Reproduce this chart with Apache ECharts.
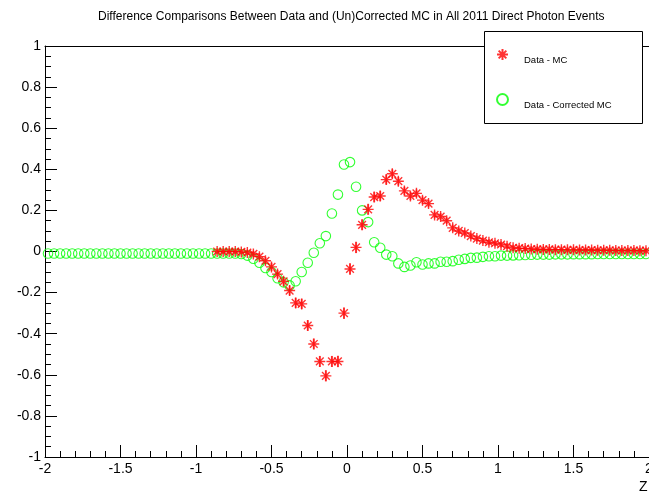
<!DOCTYPE html>
<html>
<head>
<meta charset="utf-8">
<script src="https://cdn.jsdelivr.net/npm/echarts@6/dist/echarts.min.js"></script>
<style>html,body{margin:0;padding:0;background:#fff;}#c{width:649px;height:495px;}</style>
</head>
<body>
<div id="c"></div>
<script>
// bin centers (100 bins of width 0.04 from -2 to 2)
const binCenters = Array.from({length: 100}, (_, i) => +(-1.98 + 0.04 * i).toFixed(2));

// Data - Corrected MC (green open circles), one value per bin
const correctedDiff = [
  -0.01,-0.01,-0.01,-0.01,-0.01,-0.01,-0.01,-0.01,-0.01,-0.01,
  -0.01,-0.01,-0.01,-0.01,-0.01,-0.01,-0.01,-0.01,-0.01,-0.01,
  -0.01,-0.01,-0.01,-0.01,-0.01,-0.01,-0.01,-0.01,-0.01,-0.01,
  -0.01,-0.01,-0.012,-0.02,-0.035,-0.055,-0.08,-0.10,-0.13,-0.15,
  -0.165,-0.145,-0.10,-0.055,-0.006,0.04,0.075,0.185,0.277,0.423,
  0.435,0.315,0.20,0.143,0.045,0.018,-0.015,-0.023,-0.058,-0.075,
  -0.068,-0.052,-0.063,-0.058,-0.058,-0.05,-0.05,-0.047,-0.04,-0.036,
  -0.031,-0.03,-0.026,-0.023,-0.023,-0.02,-0.02,-0.019,-0.018,-0.017,
  -0.016,-0.015,-0.015,-0.015,-0.014,-0.014,-0.014,-0.013,-0.013,-0.013,
  -0.013,-0.012,-0.012,-0.012,-0.012,-0.012,-0.012,-0.012,-0.012,-0.012
];

// Data - MC (red asterisks), null where not drawn
const uncorrectedDiff = [
  null,null,null,null,null,null,null,null,null,null,
  null,null,null,null,null,null,null,null,null,null,
  null,null,null,null,null,null,null,null,0.0,0.0,
  0.0,0.0,-0.002,-0.005,-0.012,-0.025,-0.045,-0.075,-0.11,-0.145,
  -0.19,-0.25,-0.255,-0.36,-0.45,-0.535,-0.605,-0.535,-0.535,-0.30,
  -0.085,0.02,0.13,0.205,0.265,0.27,0.35,0.378,0.342,0.295,
  0.27,0.283,0.25,0.233,0.178,0.17,0.15,0.115,0.10,0.09,
  0.075,0.063,0.053,0.045,0.04,0.034,0.026,0.018,0.016,0.014,
  0.012,0.011,0.01,0.01,0.009,0.009,0.008,0.008,0.007,0.007,
  0.007,0.006,0.006,0.006,0.005,0.005,0.005,0.005,0.004,0.004
];

// error bar half-heights of Data - MC
const uncorrectedErr = [
  null,null,null,null,null,null,null,null,null,null,
  null,null,null,null,null,null,null,null,null,null,
  null,null,null,null,null,null,null,null,0.012,0.012,
  0.012,0.012,0.012,0.014,0.015,0.016,0.018,0.02,0.02,0.022,
  0.024,0.025,0.025,0.026,0.026,0.027,0.027,0.027,0.028,0.028,
  0.028,0.028,0.026,0.026,0.025,0.025,0.024,0.022,0.021,0.02,
  0.02,0.019,0.018,0.018,0.017,0.017,0.016,0.016,0.016,0.015,
  0.015,0.015,0.015,0.015,0.015,0.015,0.015,0.015,0.015,0.015,
  0.015,0.015,0.015,0.015,0.015,0.015,0.015,0.015,0.015,0.015,
  0.015,0.015,0.015,0.015,0.015,0.015,0.015,0.015,0.015,0.015
];

const seriesNames = ['Data - MC', 'Data - Corrected MC'];
const titleText = 'Difference Comparisons Between Data and (Un)Corrected MC in All 2011 Direct Photon Events';

const toPairs = arr => binCenters.map((x, i) => arr[i] === null ? null : [x, arr[i]]).filter(p => p);
const errTriples = binCenters.map((x, i) => uncorrectedDiff[i] === null ? null :
  [x, uncorrectedDiff[i] - uncorrectedErr[i], uncorrectedDiff[i] + uncorrectedErr[i]]).filter(p => p);

const FONT = 'Liberation Sans, Arial, Helvetica, sans-serif';
const STAR = 'path://M0,50L100,50M50,0L50,100M15,15L85,85M85,15L15,85';

const chart = echarts.init(document.getElementById('c'), null, {renderer: 'canvas'});
chart.setOption({
  animation: false,
  backgroundColor: '#ffffff',
  title: {
    text: titleText,
    left: 93, top: 6,
    textStyle: {fontFamily: FONT, fontSize: 12, fontWeight: 'normal', color: '#000'}
  },
  grid: {left: 45, right: 0, top: 46, bottom: 38, containLabel: false, outerBoundsMode: 'none'},
  xAxis: [{
    type: 'value', min: -2, max: 2, interval: 0.5,
    axisLine: {show: true, onZero: false, lineStyle: {color: '#000', width: 1}},
    axisTick: {show: true, inside: true, length: 12, lineStyle: {color: '#000'}},
    minorTick: {show: true, splitNumber: 5, length: 6, lineStyle: {color: '#000'}},
    splitLine: {show: false},
    axisLabel: {fontFamily: FONT, fontSize: 14, color: '#000', margin: 5}
  }, {
    type: 'value', min: -2, max: 2, position: 'top',
    axisLine: {show: true, onZero: false, lineStyle: {color: '#000', width: 1}},
    axisTick: {show: false}, axisLabel: {show: false}, splitLine: {show: false}
  }],
  yAxis: {
    type: 'value', min: -1, max: 1, interval: 0.2,
    axisLine: {show: true, onZero: false, lineStyle: {color: '#000', width: 1}},
    axisTick: {show: true, inside: true, length: 12, lineStyle: {color: '#000'}},
    minorTick: {show: true, splitNumber: 4, length: 6, lineStyle: {color: '#000'}},
    splitLine: {show: false},
    axisLabel: {fontFamily: FONT, fontSize: 14, color: '#000', margin: 4,
      formatter: v => String(+v.toFixed(1))}
  },
  legend: {
    orient: 'vertical', left: 491, top: 43, z: 30,
    itemWidth: 11, itemHeight: 11, itemGap: 28,
    formatter: name => '{t|' + name + '}',
    textStyle: {fontFamily: FONT, fontSize: 9.5, color: '#000',
      rich: {t: {fontFamily: FONT, fontSize: 9.5, color: '#000', padding: [11, 0, 0, 11]}}},
    data: seriesNames
  },
  graphic: [
    {type: 'rect', left: 484, top: 31, z: 5, silent: true,
     shape: {width: 158, height: 92},
     style: {fill: '#fff', stroke: '#000', lineWidth: 1}},
    {type: 'text', left: 639, top: 480,
     style: {text: 'Z', fontFamily: FONT, fontSize: 14, fill: '#000'}}
  ],
  series: [
    {
      name: seriesNames[1], type: 'scatter', data: toPairs(correctedDiff),
      symbol: 'circle', symbolSize: 9.5, z: 3,
      itemStyle: {color: 'rgba(0,0,0,0)', borderColor: '#00ff00', borderWidth: 1.1}
    },
    {
      name: 'err', type: 'custom', data: errTriples, z: 4, silent: true,
      encode: {x: 0, y: [1, 2]},
      renderItem: (params, api) => {
        const lo = api.coord([api.value(0), api.value(1)]);
        const hi = api.coord([api.value(0), api.value(2)]);
        return {type: 'line', shape: {x1: lo[0], y1: lo[1], x2: hi[0], y2: hi[1]},
          style: {stroke: 'rgba(255,0,0,0.55)', lineWidth: 2}};
      }
    },
    {
      name: seriesNames[0], type: 'scatter', data: toPairs(uncorrectedDiff),
      symbol: STAR, symbolSize: 11, z: 5,
      itemStyle: {color: 'rgba(0,0,0,0)', borderColor: '#ff0000', borderWidth: 1.4}
    }
  ]
});
</script>
</body>
</html>
